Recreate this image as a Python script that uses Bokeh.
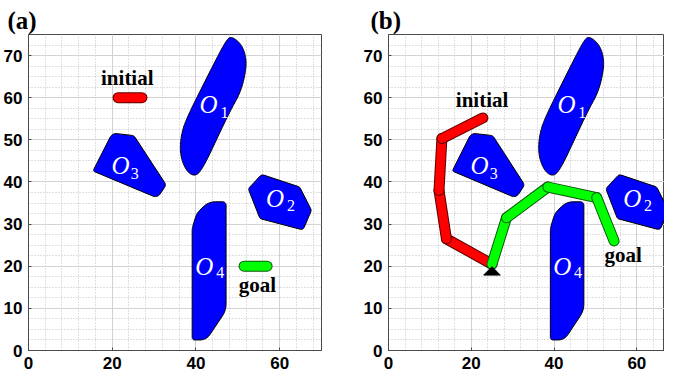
import numpy as np
from bokeh.plotting import figure
from bokeh.layouts import row
from bokeh.models import SingleIntervalTicker, Range1d
from bokeh.core.properties import value
from bokeh.embed import file_html
from bokeh.resources import INLINE

# ---------------- data ----------------
# obstacle outlines (workspace units)
o1_x = [48.4, 50.6, 51.8, 52.1, 50.8, 48.2, 45.0, 41.8, 39.9, 37.6, 36.1, 36.6, 38.4, 40.2, 44.2, 47.2]
o1_y = [74.6, 73.0, 70.5, 67.2, 61.5, 56.9, 50.2, 43.5, 41.2, 42.6, 46.8, 52.1, 56.4, 60.0, 67.9, 73.6]
o2_x = [55.7, 64.8, 67.6, 65.6, 55.3, 52.5]
o2_y = [41.8, 38.8, 33.3, 28.6, 31.3, 38.4]
o3_x = [20.0, 25.2, 32.9, 30.8, 15.4]
o3_y = [51.6, 51.0, 39.3, 36.2, 42.6]
o4_x = [39.1, 40.2, 43.0, 47.2, 47.2, 42.5, 39.1]
o4_y = [29.0, 32.6, 35.3, 35.3, 9.5, 2.5, 2.5]

obs_names = ["1", "2", "3", "4"]
lab_x = [43.0, 58.9, 22.0, 42.0]
lab_y = [58.3, 36.1, 43.8, 19.9]
sub_x = [46.8, 62.7, 25.4, 45.8]
sub_y = [56.6, 34.3, 42.0, 18.5]

# panel (a): initial / goal single links
init_a_x = [21.4, 27.1]
init_a_y = [60.0, 60.0]
goal_a_x = [51.5, 57.0]
goal_a_y = [20.0, 20.0]

# panel (b): joint positions of the chains
red_x = [25.0, 14.0, 12.2, 12.9, 22.8]
red_y = [20.5, 26.5, 38.0, 50.3, 55.2]
green_x = [25.0, 28.5, 38.5, 50.3, 54.5]
green_y = [20.5, 31.5, 38.8, 36.3, 26.0]
base_x = 25.0
base_y = 18.9

# word labels (centre positions)
text_a = {"initial": (23.6, 64.6), "goal": (54.7, 15.6)}
text_b = {"initial": (22.6, 59.4), "goal": (56.7, 22.7)}

x_ticks_interval = 20
y_ticks_interval = 10

# ---------------- geometry helpers ----------------
def rounded(xs, ys, radii, n=10):
    P = np.column_stack([xs, ys]).astype(float)
    m = len(P)
    if np.isscalar(radii):
        radii = [radii] * m
    out = []
    for i in range(m):
        p, a, b = P[i], P[i - 1], P[(i + 1) % m]
        u1 = a - p; l1 = np.hypot(*u1); u1 = u1 / l1
        u2 = b - p; l2 = np.hypot(*u2); u2 = u2 / l2
        ang = np.arccos(np.clip(np.dot(u1, u2), -1, 1))
        if ang > np.pi - 1e-3 or radii[i] <= 0:
            out.append(p); continue
        d = radii[i] / np.tan(ang / 2)
        d = min(d, 0.45 * min(l1, l2))
        rr = d * np.tan(ang / 2)
        t1 = p + u1 * d; t2 = p + u2 * d
        bis = u1 + u2; bis = bis / np.hypot(*bis)
        c = p + bis * rr / np.sin(ang / 2)
        a1 = np.arctan2(*(t1 - c)[::-1]); a2 = np.arctan2(*(t2 - c)[::-1])
        da = (a2 - a1 + np.pi) % (2 * np.pi) - np.pi
        for t in np.linspace(0, 1, n):
            out.append(c + rr * np.array([np.cos(a1 + da * t), np.sin(a1 + da * t)]))
    out = np.array(out)
    return list(out[:, 0]), list(out[:, 1])

def chaikin(xs, ys, it=3):
    P = np.column_stack([xs, ys]).astype(float)
    for _ in range(it):
        Q = np.roll(P, -1, axis=0)
        P = np.column_stack([0.75 * P + 0.25 * Q, 0.25 * P + 0.75 * Q]).reshape(-1, 2)
    return list(P[:, 0]), list(P[:, 1])

shapes = [
    chaikin(o1_x, o1_y, 4),
    rounded(o2_x, o2_y, 0.8),
    rounded(o3_x, o3_y, [1.6, 1.0, 1.0, 1.4, 0.4]),
    rounded(o4_x, o4_y, [4.0, 4.0, 4.0, 0.8, 5.0, 5.0, 0.6]),
]

FONT_SANS = "Liberation Sans"
FONT_SERIF = "Liberation Serif"

def make_panel(title, width, x_end, border_left, border_right):
    p = figure(width=width, height=372, output_backend="svg", toolbar_location=None,
               x_range=Range1d(0, x_end), y_range=Range1d(0, 75),
               min_border_left=border_left, min_border_right=border_right,
               min_border_top=34, min_border_bottom=22)
    p.title.text = title
    p.title.text_font = FONT_SERIF
    p.title.text_font_size = "25px"
    p.title.text_font_style = "bold"
    p.title.text_color = "black"
    p.title.align = "left"
    p.title.offset = -border_left + 5
    p.title.standoff = 2
    p.outline_line_color = "#4a4a4a"
    p.outline_line_width = 1
    p.background_fill_color = "white"
    p.border_fill_color = "white"
    p.xaxis.ticker = SingleIntervalTicker(interval=x_ticks_interval, num_minor_ticks=5)
    p.yaxis.ticker = SingleIntervalTicker(interval=y_ticks_interval, num_minor_ticks=4)
    for ax in (p.xaxis, p.yaxis):
        ax.major_label_text_font = FONT_SANS
        ax.major_label_text_font_size = "17px"
        ax.major_label_text_font_style = "bold"
        ax.major_label_text_color = "black"
        ax.axis_line_color = "#4a4a4a"
        ax.major_tick_line_color = "#4a4a4a"
        ax.major_tick_in = 3
        ax.major_tick_out = 0
        ax.minor_tick_line_color = None
        ax.major_label_standoff = 2
    for g in (p.xgrid, p.ygrid):
        g.grid_line_color = "#d2d2d2"
        g.grid_line_width = 1
        g.minor_grid_line_color = "#c0c0c0"
        g.minor_grid_line_dash = "1 2"
        g.minor_grid_line_width = 1
    # obstacles
    p.patches([s[0] for s in shapes], [s[1] for s in shapes],
              fill_color="#0000ff", line_color="black", line_width=1)
    p.text(lab_x, lab_y, text=["O"] * 4, text_font=value(FONT_SERIF),
           text_font_style="italic", text_font_size="25px", text_color="white",
           text_align="center", text_baseline="middle")
    p.text(sub_x, sub_y, text=obs_names, text_font=value(FONT_SERIF),
           text_font_size="16px", text_color="white",
           text_align="center", text_baseline="middle")
    return p

def capsule_chain(p, xs, ys, fill, edge):
    for i in range(len(xs) - 1):
        p.line([xs[i], xs[i + 1]], [ys[i], ys[i + 1]], line_width=11,
               line_color=edge, line_cap="round")
        p.line([xs[i], xs[i + 1]], [ys[i], ys[i + 1]], line_width=9,
               line_color=fill, line_cap="round")

def words(p, d):
    for k, (x, y) in d.items():
        p.text([x], [y], text=[k], text_font=value(FONT_SERIF), text_font_style="bold",
               text_font_size="21px", text_color="black",
               text_align="center", text_baseline="middle")

RED, RED_EDGE = "#ff0000", "#5a0000"
GREEN, GREEN_EDGE = "#00ff00", "#0a5a0a"

pa = make_panel("(a)", 360, 70, 26, 39)
capsule_chain(pa, init_a_x, init_a_y, RED, RED_EDGE)
capsule_chain(pa, goal_a_x, goal_a_y, GREEN, GREEN_EDGE)
words(pa, text_a)

pb = make_panel("(b)", 304, 281 / (295 / 70), 23, 0)
capsule_chain(pb, red_x, red_y, RED, RED_EDGE)
capsule_chain(pb, green_x, green_y, GREEN, GREEN_EDGE)
tri_hw, tri_h = 2.0, 2.0
pb.patch([base_x - tri_hw, base_x + tri_hw, base_x],
         [base_y - tri_h / 2, base_y - tri_h / 2, base_y + tri_h / 2],
         fill_color="black", line_color="black")
words(pb, text_b)

layout = row(pa, pb)
open("out.html", "w").write(file_html(layout, INLINE))
